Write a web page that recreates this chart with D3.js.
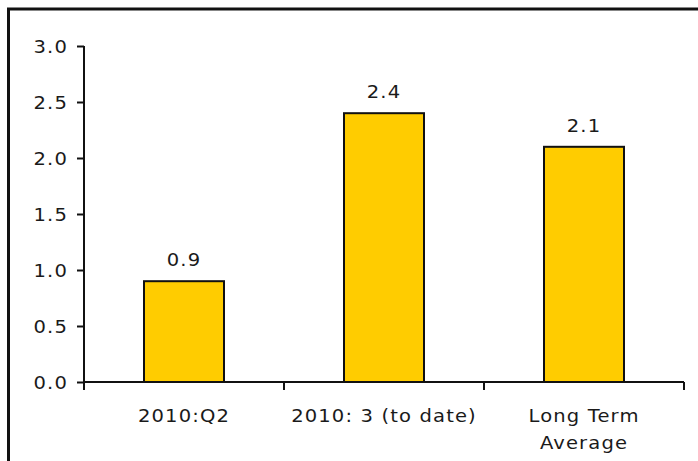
<!DOCTYPE html>
<html>
<head>
<meta charset="utf-8">
<script src="https://cdn.jsdelivr.net/npm/d3@7"></script>
<style>
  html, body { margin: 0; padding: 0; background: #fff; overflow: hidden; }
  text { font-family: "DejaVu Sans", Verdana, sans-serif; fill: #1a1a1a; letter-spacing: 1px; }
</style>
</head>
<body>
<svg width="698" height="461"></svg>
<script>
var categories = [["2010:Q2"], ["2010: 3 (to date)"], ["Long Term", "Average"]];
var values = [0.9, 2.4, 2.1];
var yTicks = [0, 0.5, 1, 1.5, 2, 2.5, 3];

var svg = d3.select("svg"),
    width = +svg.attr("width"),
    height = +svg.attr("height");

var stretch = 1.15;   // text in the picture is drawn a bit wide
var fontSize = 17;

// frame round the chart, runs off the right and bottom edges
svg.append("rect")
    .attr("x", 8.5)
    .attr("y", 9)
    .attr("width", 800)
    .attr("height", 600)
    .attr("fill", "none")
    .attr("stroke", "#111")
    .attr("stroke-width", 3);

var keys = categories.map(function (d) { return d.join(" "); });

var x = d3.scaleBand()
    .domain(keys)
    .range([84, 684]);

var y = d3.scaleLinear()
    .domain([0, 3])
    .range([382, 46]);

// y axis
var yAxis = svg.append("g")
    .attr("transform", "translate(84,0)")
    .call(d3.axisLeft(y).tickValues(yTicks).tickSize(7).tickPadding(9)
        .tickFormat(d3.format(".1f")));
yAxis.select(".domain").attr("stroke", "#111").attr("stroke-width", 2)
    .attr("d", "M0,46V390");
yAxis.selectAll(".tick line").attr("stroke", "#111").attr("stroke-width", 2);
yAxis.selectAll(".tick text")
    .attr("font-size", fontSize)
    .attr("dy", "0.36em")
    .attr("x", null)
    .attr("transform", "translate(-16,0) scale(" + stretch + ",1)");

// x axis line and ticks at band edges
var xg = svg.append("g");
xg.append("line")
    .attr("x1", x.range()[0]).attr("x2", x.range()[1])
    .attr("y1", y(0)).attr("y2", y(0))
    .attr("stroke", "#111").attr("stroke-width", 2);
var edges = keys.map(function (k) { return x(k); }).concat([x.range()[1]]);
xg.selectAll(".edge")
    .data(edges)
    .enter()
    .append("line")
    .attr("class", "edge")
    .attr("x1", function (d) { return d; }).attr("x2", function (d) { return d; })
    .attr("y1", y(0)).attr("y2", y(0) + 8)
    .attr("stroke", "#111").attr("stroke-width", 2);

// bars
var barW = x.bandwidth() * 0.4;
svg.append("g")
    .selectAll("rect")
    .data(values)
    .enter()
    .append("rect")
    .attr("x", function (d, i) { return x(keys[i]) + (x.bandwidth() - barW) / 2; })
    .attr("y", function (d) { return y(d); })
    .attr("width", barW)
    .attr("height", function (d) { return y(0) - y(d); })
    .attr("fill", "#ffcc00")
    .attr("stroke", "#111")
    .attr("stroke-width", 2);

// value labels
svg.append("g")
    .selectAll("text")
    .data(values)
    .enter()
    .append("text")
    .attr("text-anchor", "middle")
    .attr("font-size", fontSize)
    .attr("transform", function (d, i) {
        return "translate(" + (x(keys[i]) + x.bandwidth() / 2) + "," + (y(d) - 15) + ") scale(" + stretch + ",1)";
    })
    .text(function (d) { return d3.format(".1f")(d); });

// category labels
var cat = svg.append("g")
    .selectAll("text")
    .data(categories)
    .enter()
    .append("text")
    .attr("text-anchor", "middle")
    .attr("font-size", fontSize)
    .attr("transform", function (d, i) {
        return "translate(" + (x(keys[i]) + x.bandwidth() / 2) + ",422) scale(" + stretch + ",1)";
    });
cat.selectAll("tspan")
    .data(function (d) { return d; })
    .enter()
    .append("tspan")
    .attr("x", 0)
    .attr("y", function (d, j) { return j * 27; })
    .text(function (d) { return d; });
</script>
</body>
</html>
